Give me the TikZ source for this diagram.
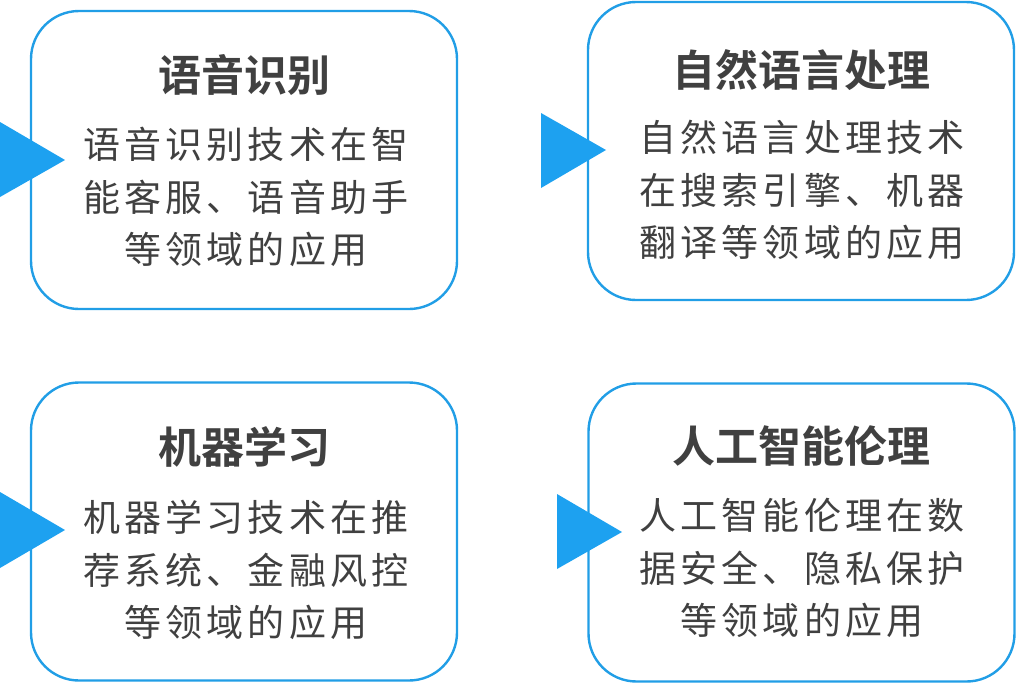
\documentclass[tikz,border=0pt]{standalone}
\usepackage{fontspec}
\newfontfamily\titlefont{Noto Sans CJK SC Bold}
\newfontfamily\bodyfont[LetterSpace=11]{Noto Sans CJK SC}
\definecolor{boxblue}{RGB}{33,158,230}
\definecolor{triblue}{RGB}{29,161,240}
\definecolor{txtgray}{RGB}{64,64,64}
\tikzset{
  card/.style={draw=boxblue, line width=2.4pt, fill=white, rounded corners=48pt,
    minimum width=426pt, minimum height=298pt, inner sep=0pt},
  cardtitle/.style={text=txtgray, font=\titlefont\fontsize{43}{50}\selectfont, inner sep=0pt},
  cardbody/.style={text=txtgray, font=\bodyfont\fontsize{37}{52.5}\selectfont, align=center, inner sep=0pt},
  pointer/.style={fill=triblue}
}
\begin{document}
\begin{tikzpicture}[x=1pt,y=-1pt]
	\useasboundingbox (0,0) rectangle (1017,683);
	% cards
	\node[card] (speech) at (244,160){};
	\node[card] (nlp) at (801,151){};
	\node[card] (ml) at (244,531.5){};
	\node[card] (ethics) at (801.5,532.5){};

	% titles
	\node[cardtitle] (speechT) at (244,75){语音识别};
	\node[cardtitle] (nlpT) at (801,70){自然语言处理};
	\node[cardtitle] (mlT) at (244,447){机器学习};
	\node[cardtitle] (ethicsT) at (801.5,446){人工智能伦理};

	% texts
	\node[cardbody] (speechB) at (246,197){语音识别技术在智\\能客服、语音助手\\等领域的应用};
	\node[cardbody] (nlpB) at (802,190){自然语言处理技术\\在搜索引擎、机器\\翻译等领域的应用};
	\node[cardbody] (mlB) at (246,570){机器学习技术在推\\荐系统、金融风控\\等领域的应用};
	\node[cardbody] (ethicsB) at (802,568){人工智能伦理在数\\据安全、隐私保护\\等领域的应用};

	% pointers
	\fill[pointer] (0,122) -- (65,160) -- (0,197) -- cycle;
	\fill[pointer] (541,113) -- (606,150) -- (541,188) -- cycle;
	\fill[pointer] (0,492) -- (65,530) -- (0,568) -- cycle;
	\fill[pointer] (557,494) -- (622,532) -- (557,569) -- cycle;
\end{tikzpicture}
\end{document}
